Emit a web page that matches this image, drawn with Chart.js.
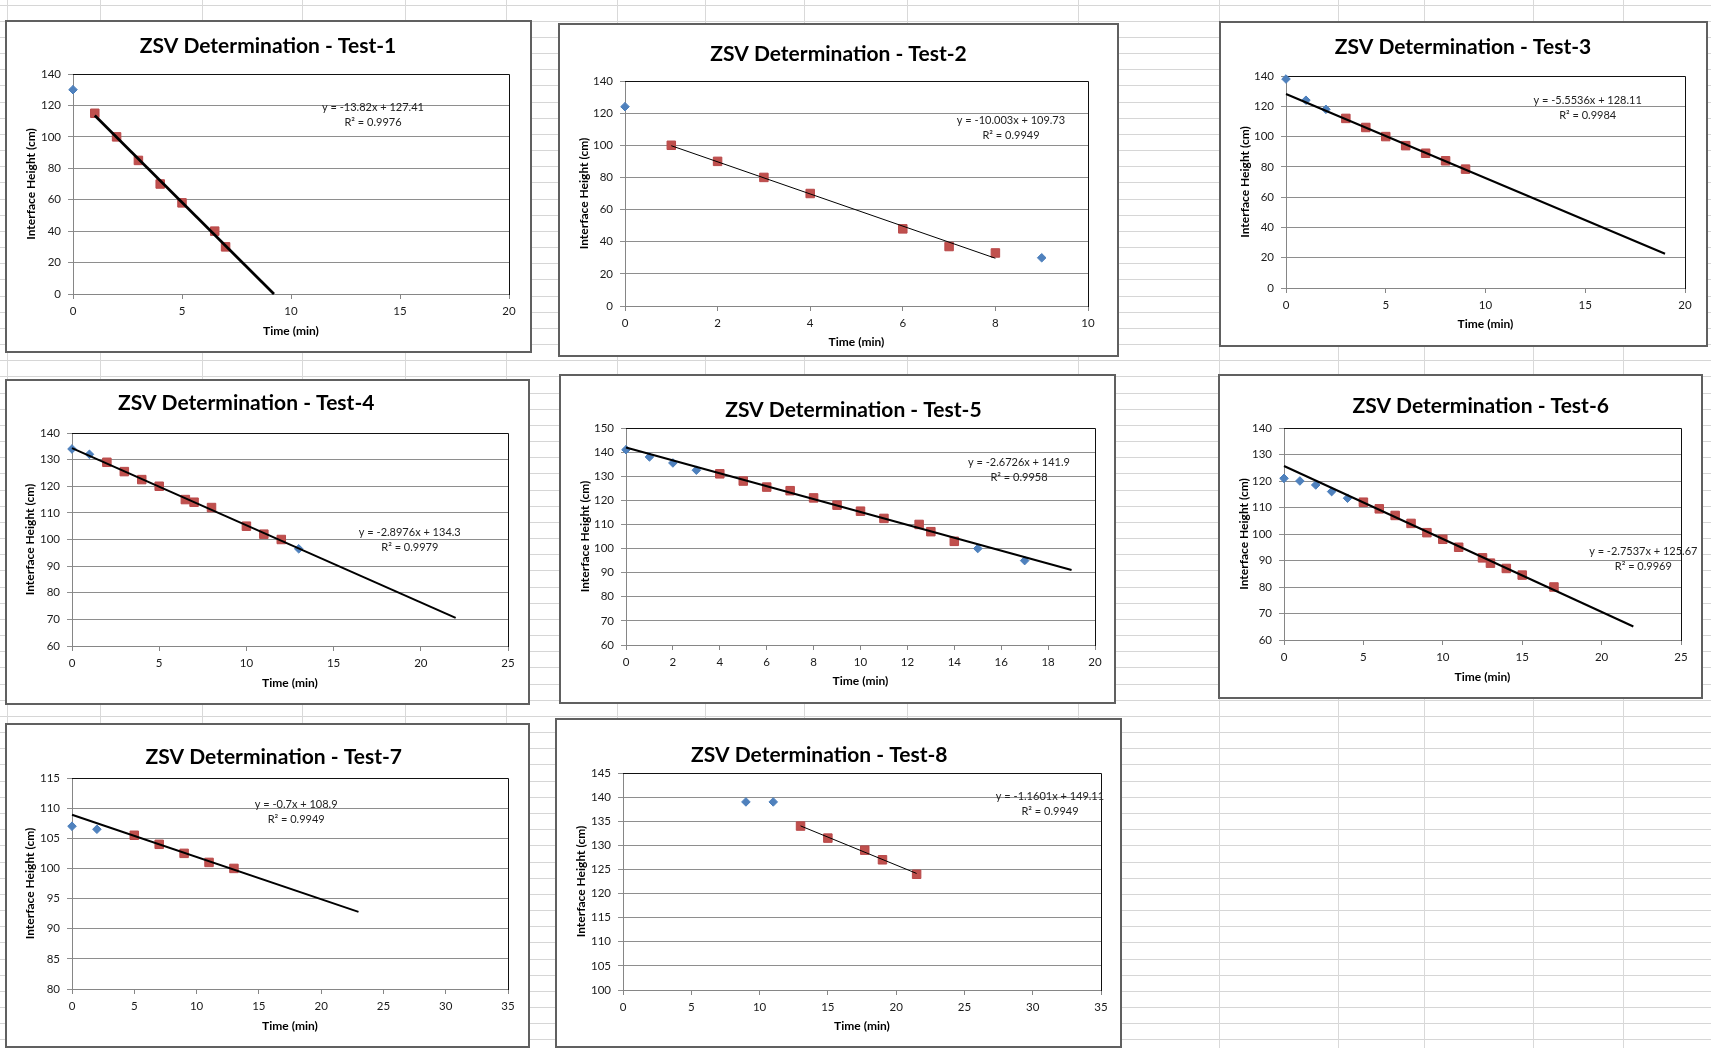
<!DOCTYPE html>
<html>
<head>
<meta charset="utf-8">
<title>ZSV Determination</title>
<script src="https://cdn.jsdelivr.net/npm/chart.js@4.4.1/dist/chart.umd.min.js"></script>
<style>
  html, body { margin: 0; padding: 0; background: #fff; overflow: hidden; }
  #sheet { position: relative; width: 1711px; height: 1048px; overflow: hidden; background: #fff; }
  .hline { position: absolute; left: 0; width: 1711px; height: 1px; background: #d6d6d6; }
  .vline { position: absolute; top: 0; width: 1px; height: 1048px; background: #d9d9d9; }
  .panel { position: absolute; box-sizing: border-box; border: 2px solid #606060; background: #fff; }
  .panel canvas { display: block; }
</style>
</head>
<body>
<div id="sheet"></div>
<script>
// ---- Settling test data: time (min) vs interface height (cm) ----
// "Measured" = readings outside the fitted range, "Fit" = readings used for the trendline.

const test1Time = [0];
const test1Height = [130];
const test1FitTime = [1, 2, 3, 4, 5, 6.5, 7];
const test1FitHeight = [115, 100, 85, 70, 58, 40, 30];

const test2Time = [0, 9];
const test2Height = [124, 30];
const test2FitTime = [1, 2, 3, 4, 6, 7, 8];
const test2FitHeight = [100, 90, 80, 70, 48, 37, 33];

const test3Time = [0, 1, 2];
const test3Height = [138, 124, 118];
const test3FitTime = [3, 4, 5, 6, 7, 8, 9];
const test3FitHeight = [112, 106, 100, 94, 89, 84, 78.5];

const test4Time = [0, 1, 13];
const test4Height = [134, 132, 96.5];
const test4FitTime = [2, 3, 4, 5, 6.5, 7, 8, 10, 11, 12];
const test4FitHeight = [129, 125.5, 122.5, 120, 115, 114, 112, 105, 102, 100];

const test5Time = [0, 1, 2, 3, 15, 17];
const test5Height = [141, 138, 135.5, 132.5, 100, 95];
const test5FitTime = [4, 5, 6, 7, 8, 9, 10, 11, 12.5, 13, 14];
const test5FitHeight = [131, 128, 125.5, 124, 121, 118, 115.5, 112.5, 110, 107, 103];

const test6Time = [0, 1, 2, 3, 4];
const test6Height = [121, 120, 118.5, 116, 113.5];
const test6FitTime = [5, 6, 7, 8, 9, 10, 11, 12.5, 13, 14, 15, 17];
const test6FitHeight = [112, 109.5, 107, 104, 100.5, 98, 95, 91, 89, 87, 84.5, 80];

const test7Time = [0, 2];
const test7Height = [107, 106.5];
const test7FitTime = [5, 7, 9, 11, 13];
const test7FitHeight = [105.5, 104, 102.5, 101, 100];

const test8Time = [9, 11];
const test8Height = [139, 139];
const test8FitTime = [13, 15, 17.7, 19, 21.5];
const test8FitHeight = [134, 131.5, 129, 127, 124];

// Linear trendlines (slope, intercept, R²) and the time span each line covers
const trendSlope     = [-13.82, -10.003, -5.5536, -2.8976, -2.6726, -2.7537, -0.7, -1.1601];
const trendIntercept = [127.41, 109.73, 128.11, 134.3, 141.9, 125.67, 108.9, 149.11];
const trendR2        = [0.9976, 0.9949, 0.9984, 0.9979, 0.9958, 0.9969, 0.9949, 0.9949];
const trendFrom      = [1, 1, 0, 0, 0, 0, 0, 13];
const trendTo        = [9.22, 8, 19, 22, 19, 22, 23, 21.5];

// Axis ranges and tick steps
const xMax  = [20, 10, 20, 25, 20, 25, 35, 35];
const xStep = [5, 2, 5, 5, 2, 5, 5, 5];
const yMin  = [0, 0, 0, 60, 60, 60, 80, 100];
const yMax  = [140, 140, 140, 140, 150, 140, 115, 145];
const yStep = [20, 20, 20, 10, 10, 10, 5, 5];

const chartTitles = [
  'ZSV Determination - Test-1', 'ZSV Determination - Test-2', 'ZSV Determination - Test-3',
  'ZSV Determination - Test-4', 'ZSV Determination - Test-5', 'ZSV Determination - Test-6',
  'ZSV Determination - Test-7', 'ZSV Determination - Test-8'
];
const xAxisTitle = 'Time (min)';
const yAxisTitle = 'Interface Height (cm)';

const measuredTimes  = [test1Time, test2Time, test3Time, test4Time, test5Time, test6Time, test7Time, test8Time];
const measuredHeights = [test1Height, test2Height, test3Height, test4Height, test5Height, test6Height, test7Height, test8Height];
const fitTimes  = [test1FitTime, test2FitTime, test3FitTime, test4FitTime, test5FitTime, test6FitTime, test7FitTime, test8FitTime];
const fitHeights = [test1FitHeight, test2FitHeight, test3FitHeight, test4FitHeight, test5FitHeight, test6FitHeight, test7FitHeight, test8FitHeight];

// ---- Page layout (sheet pixels) ----
const panelLayout = [
  { box: [6, 21, 531, 352],      plot: [72.5, 74.3, 509, 294.3],    title: [268, 46.7],    eq: [373, 107],     xTitleY: 331,    yTitleX: 31,     trendWidth: 2.75 },
  { box: [559, 24, 1118, 356],   plot: [625.2, 80.7, 1087.5, 305.7], title: [838.5, 54.3],  eq: [1011, 120.3],  xTitleY: 342.3,  yTitleX: 584,    trendWidth: 1 },
  { box: [1220, 22, 1707, 346],  plot: [1286.3, 76, 1685, 287.7],   title: [1463, 47.3],   eq: [1587.7, 100.3], xTitleY: 324,   yTitleX: 1245,   trendWidth: 2 },
  { box: [6, 380, 529, 704],     plot: [71.6, 432.7, 508, 646.3],   title: [246.2, 403.3], eq: [409.8, 532.3], xTitleY: 683.3,  yTitleX: 30.3,   trendWidth: 2 },
  { box: [560, 375, 1115, 703],  plot: [626, 428, 1094.5, 645],     title: [853.4, 410],   eq: [1019, 462],    xTitleY: 681,    yTitleX: 585,    trendWidth: 2 },
  { box: [1219, 375, 1702, 698], plot: [1284.3, 428.3, 1681, 640.3], title: [1480.7, 406], eq: [1643.3, 551],  xTitleY: 676.7,  yTitleX: 1244.3, trendWidth: 2 },
  { box: [6, 724, 529, 1047],    plot: [72.3, 777.7, 508.3, 989.3], title: [273.8, 757.3], eq: [296.2, 804.3], xTitleY: 1026,   yTitleX: 30.3,   trendWidth: 2 },
  { box: [556, 719, 1121, 1047], plot: [622.5, 772.7, 1101.2, 990], title: [819.3, 755],   eq: [1050, 796.7],  xTitleY: 1025.7, yTitleX: 581.4,  trendWidth: 1 }
];

const sheetColumns = [6.5, 100.4, 201.9, 302.3, 404.8, 506.3, 616.5, 705, 804.2, 906.8, 1078.1, 1218.9, 1337.8, 1424, 1533.1, 1622.6];
const rowStart = 4.5, rowPitch = 16.17;

const FONT = 'Lato, "Open Sans", "Liberation Sans", sans-serif';
const AXIS_GREY = '#868686';

// ---- Worksheet cell grid behind the charts ----
const sheet = document.getElementById('sheet');
for (let y = rowStart; y < 1048; y += rowPitch) {
  const d = document.createElement('div');
  d.className = 'hline';
  d.style.top = Math.round(y) + 'px';
  sheet.appendChild(d);
}
sheetColumns.forEach(x => {
  const d = document.createElement('div');
  d.className = 'vline';
  d.style.left = Math.round(x) + 'px';
  sheet.appendChild(d);
});

// ---- Plugins ----
// Black frame on the top and right sides of the plot area
const plotFrame = {
  id: 'plotFrame',
  beforeDatasetsDraw(chart) {
    const { left, top, right, bottom } = chart.chartArea;
    const ctx = chart.ctx;
    ctx.save();
    ctx.strokeStyle = '#111';
    ctx.lineWidth = 1;
    ctx.beginPath();
    const t = Math.round(top) + 0.5, r = Math.round(right) + 0.5;
    ctx.moveTo(Math.round(left), t);
    ctx.lineTo(r, t);
    ctx.lineTo(r, Math.round(bottom) + 1);
    ctx.stroke();
    ctx.restore();
  }
};

// Chart title and trendline equation text
function panelText(i, originX, originY) {
  const lay = panelLayout[i];
  const eqLine = 'y = ' + trendSlope[i] + 'x + ' + trendIntercept[i];
  const r2Line = 'R\u00B2 = ' + trendR2[i].toFixed(4);
  return {
    id: 'panelText' + i,
    afterDraw(chart) {
      const ctx = chart.ctx;
      ctx.save();
      ctx.textAlign = 'center';
      ctx.textBaseline = 'middle';
      ctx.fillStyle = '#000';
      ctx.font = 'bold 21px ' + FONT;
      ctx.fillText(chartTitles[i], lay.title[0] - originX, lay.title[1] - originY);
      ctx.fillStyle = '#222';
      ctx.font = '11px ' + FONT;
      ctx.fillText(eqLine, lay.eq[0] - originX, lay.eq[1] - originY);
      ctx.fillText(r2Line, lay.eq[0] - originX, lay.eq[1] + 15 - originY);
      ctx.restore();
    }
  };
}

function points(xs, ys) {
  return xs.map((x, k) => ({ x: x, y: ys[k] }));
}

// ---- Build the eight panels ----
panelLayout.forEach((lay, i) => {
  const [bx0, by0, bx1, by1] = lay.box.map(Math.round);
  const panel = document.createElement('div');
  panel.className = 'panel';
  panel.style.left = (bx0 - 1) + 'px';
  panel.style.top = (by0 - 1) + 'px';
  panel.style.width = (bx1 - bx0 + 2) + 'px';
  panel.style.height = (by1 - by0 + 2) + 'px';
  sheet.appendChild(panel);

  const cl = bx0 + 1, ct = by0 + 1;
  const cw = bx1 - bx0 - 2, ch = by1 - by0 - 2;
  const canvas = document.createElement('canvas');
  canvas.width = cw; canvas.height = ch;
  canvas.style.width = cw + 'px'; canvas.style.height = ch + 'px';
  panel.appendChild(canvas);

  const L = Math.round(lay.plot[0] - cl);
  const T = Math.round(lay.plot[1] - ct);
  const R = Math.round(lay.plot[2] - cl);
  const B = Math.round(lay.plot[3] - ct);

  const titleSize = 12, titleLH = titleSize * 1.2;
  const yTitlePad = Math.max(0, lay.yTitleX - cl - titleLH / 2);
  const xTitlePad = Math.max(0, ch - (lay.xTitleY - ct) - titleLH / 2);

  const m = trendSlope[i], b = trendIntercept[i];
  const trendPts = [
    { x: trendFrom[i], y: m * trendFrom[i] + b },
    { x: trendTo[i], y: m * trendTo[i] + b }
  ];

  new Chart(canvas, {
    type: 'scatter',
    data: {
      datasets: [
        {
          label: 'Linear trend',
          data: trendPts,
          showLine: true,
          borderColor: '#000',
          borderWidth: lay.trendWidth,
          pointRadius: 0,
          fill: false,
          order: 0,
          clip: false
        },
        {
          label: 'Fitted readings',
          data: points(fitTimes[i], fitHeights[i]),
          pointStyle: 'rect',
          pointRadius: 6,
          backgroundColor: '#C0504D',
          borderColor: '#B9494A',
          borderWidth: 1,
          order: 1,
          clip: false
        },
        {
          label: 'Readings',
          data: points(measuredTimes[i], measuredHeights[i]),
          pointStyle: 'rectRot',
          pointRadius: 4.3,
          backgroundColor: '#4F81BD',
          borderColor: '#4A7EBB',
          borderWidth: 1,
          order: 2,
          clip: false
        }
      ]
    },
    options: {
      responsive: false,
      animation: false,
      devicePixelRatio: 1,
      events: [],
      layout: { padding: { left: 0, top: T, right: cw - R, bottom: 0 } },
      plugins: {
        legend: { display: false },
        tooltip: { enabled: false },
        title: { display: false }
      },
      scales: {
        x: {
          type: 'linear',
          position: 'bottom',
          min: 0,
          max: xMax[i],
          ticks: {
            stepSize: xStep[i],
            autoSkip: false,
            maxRotation: 0,
            padding: 5,
            color: '#1a1a1a',
            font: { family: FONT, size: 11.5 }
          },
          grid: { drawOnChartArea: false, drawTicks: true, tickLength: 5, color: AXIS_GREY },
          border: { display: true, color: AXIS_GREY, width: 1 },
          title: {
            display: true,
            text: xAxisTitle,
            color: '#000',
            font: { family: FONT, size: titleSize, weight: 'bold', lineHeight: 1.2 },
            padding: { top: 0, bottom: xTitlePad }
          },
          afterFit(scale) { scale.height = ch - B; }
        },
        y: {
          type: 'linear',
          position: 'left',
          min: yMin[i],
          max: yMax[i],
          ticks: {
            stepSize: yStep[i],
            autoSkip: false,
            padding: 7,
            color: '#1a1a1a',
            font: { family: FONT, size: 11.5 }
          },
          grid: { color: '#8e8e8e', lineWidth: 1, tickLength: 5, drawTicks: true },
          border: { display: true, color: AXIS_GREY, width: 1 },
          title: {
            display: true,
            text: yAxisTitle,
            color: '#000',
            font: { family: FONT, size: titleSize, weight: 'bold', lineHeight: 1.2 },
            padding: { top: yTitlePad, bottom: 0 }
          },
          afterFit(scale) { scale.width = L; }
        }
      }
    },
    plugins: [plotFrame, panelText(i, cl, ct)]
  });
});
</script>
</body>
</html>
